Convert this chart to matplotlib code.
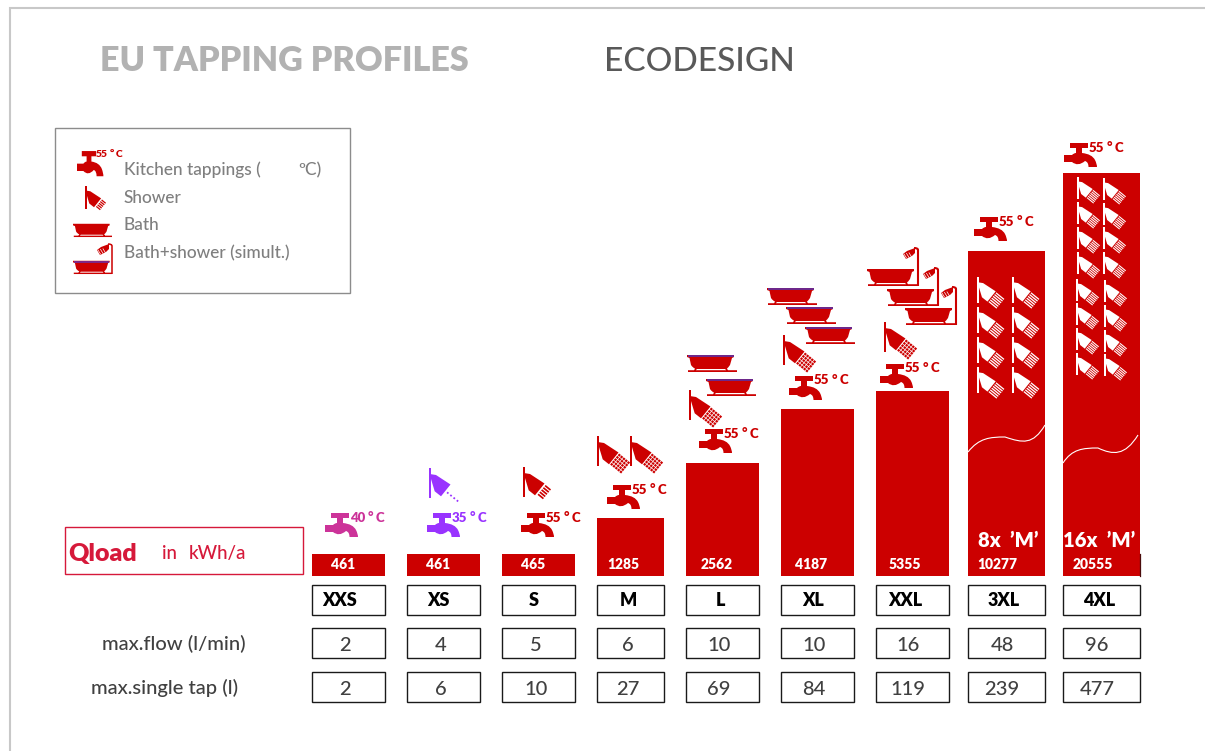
"""
EU tapping profiles (ecodesign) overview
"""
import numpy as np
import matplotlib
matplotlib.use("Agg")
import matplotlib.pyplot as plt
from matplotlib.patches import PathPatch, Rectangle
from matplotlib.path import Path
from matplotlib.transforms import Affine2D

plt.rcParams["font.family"] = ["Lato", "DejaVu Sans"]

# data
profiles = ["XXS", "XS", "S", "M", "L", "XL", "XXL", "3XL", "4XL"]
qload = [461, 461, 465, 1285, 2562, 4187, 5355, 10277, 20555]
max_flow = [2, 4, 5, 6, 10, 10, 16, 48, 96]
max_single_tap = [2, 6, 10, 27, 69, 84, 119, 239, 477]
bar_heights = [22, 22, 22, 58, 113, 167, 185, 325, 403]
tap_temps = [40, 35, 55, 55, 55, 55, 55, 55, 55]

# layout, in pixels of the 1205x751 picture
BAR_LEFT = [312, 407, 502, 597, 686, 781, 876, 968, 1063]
BAR_WIDTH = [73, 73, 73, 67, 73, 73, 73, 77, 77]
BASE = 576
NAME_X = [340, 438, 534, 628, 720, 813, 905, 1004, 1099]
FLOW_X = [345, 441, 536, 628, 719, 814, 908, 1002, 1097]
QLOAD_X = [343, 438, 533, 623, 717, 811, 905, 997, 1093]
TAP_POS = [(325, 512), (427, 512), (521, 512), (607, 484), (699, 428),
           (789, 375), (880, 363), (974, 216), (1064, 142)]

RED = "#cc0000"
MAGENTA = "#cc3399"
PURPLE = "#9933ff"
CRIMSON = "#d6193a"
TAP_COLORS = [MAGENTA, PURPLE] + [RED] * 7
M, L, Q, C = Path.MOVETO, Path.LINETO, Path.CURVE3, Path.CLOSEPOLY

TAP_PATH = Path(
    [(6, 1), (24, 1), (24, 6), (18, 6), (18, 11), (28, 12), (31, 18), (33, 22), (33, 25),
     (24.5, 25), (24.5, 20), (21, 19), (14, 25), (8, 20), (0, 20), (0, 13), (8, 13),
     (10, 11), (12, 11), (12, 6), (6, 6), (6, 1)],
    [M, L, L, L, L, Q, Q, Q, Q, L, Q, Q, Q, Q, L, L, L, Q, Q, L, L, C])

# tub with feet, then the floor line
BATH_PATH = Path(
    [(0, 1), (47, 1), (47, 3), (45, 4), (43, 11), (41, 14), (40, 14.5), (41, 16.5), (39.5, 16.5),
     (38, 15), (10, 15), (8.5, 16.5), (7, 16.5), (8, 14.5), (6, 14), (4, 11), (2.5, 4), (0, 3), (0, 1),
     (1, 16.2), (50, 16.2), (50, 18), (1, 18), (1, 16.2)],
    [M, L, L, L, L, Q, Q, L, L, L, L, L, L, L, Q, Q, L, L, C, M, L, L, L, C])

HEAD_PATH = Path(
    [(0.7, 6), (7, 7), (21.5, 16.5), (12, 28.3), (5.7, 23.3), (1.7, 10), (0.7, 6)],
    [M, L, L, L, L, L, C])

fig = plt.figure(figsize=(12.05, 7.51), dpi=100)
ax = fig.add_axes([0, 0, 1, 1])
ax.set_xlim(0, 1205)
ax.set_ylim(751, 0)
ax.axis("off")


def add_path(path, x, y, color, sx=1.0, sy=None, zorder=3):
    sy = sx if sy is None else sy
    trans = Affine2D().scale(sx, sy).translate(x, y) + ax.transData
    ax.add_patch(PathPatch(path, facecolor=color, edgecolor="none", lw=0,
                           transform=trans, zorder=zorder))


def draw_tap(x, y, temp, color, sx=1.0, sy=1.0, size=9.5, label_dx=25, label_dy=9.5):
    add_path(TAP_PATH, x, y, color, sx, sy)
    ax.text(x + label_dx, y + label_dy, f"{temp}", color=color, fontsize=size,
            fontweight="heavy", va="baseline", zorder=4)
    ax.text(x + label_dx + 1.85 * size, y + label_dy - 0.5, "°", color=color, fontsize=size,
            fontweight="heavy", va="baseline", zorder=4)
    ax.text(x + label_dx + 2.65 * size, y + label_dy, "C", color=color, fontsize=size,
            fontweight="heavy", va="baseline", zorder=4)


def draw_shower(x, y, color=RED, style="dense", scale=1.0):
    add_path(HEAD_PATH, x, y, color, scale)
    ax.add_patch(Rectangle((x, y), 1.5, 30 * scale, facecolor=color, lw=0, zorder=3))
    u = np.array([-0.63, 0.77])
    v = np.array([0.77, 0.63])
    start = np.array([21.5, 17.0])
    if style == "dense":
        spots = [(a * 3.0, b * 3.0 + 0.8, 2.3, 2.3) for a in range(5) for b in range(5)]
    elif style == "sparse":
        spots = [(7, 2 + b * 4.2, 1.8, 1.8) for b in range(4)]
    elif style == "white":
        spots = [(a * 2.6, 1.0, 1.5, 12) for a in range(6)]
    else:
        spots = [(a * 2.8, 1.5, 1.7, 7) for a in range(5)]
    for a, b, w, h in spots:
        corner = start + a * u + b * v
        quad = [corner, corner + w * u, corner + w * u + h * v, corner + h * v, corner]
        quad = np.array(quad) * scale + (x, y)
        ax.add_patch(plt.Polygon(quad, facecolor=color, lw=0, zorder=3))


def draw_bath(x, y, scale=1.0, rim=None):
    add_path(BATH_PATH, x, y, RED, scale)
    if rim:
        ax.plot([x + 0.5, x + 0.5 + 46 * scale], [y + 1.6, y + 1.6], color=rim, lw=1.2,
                solid_capstyle="butt", zorder=4)


def draw_pipe(x, top, bottom, lw=1.5):
    pipe = Path([(x, bottom), (x, top + 2), (x, top), (x - 4, top)], [M, L, Q, Q])
    ax.add_patch(PathPatch(pipe, facecolor="none", edgecolor=RED, lw=lw, zorder=3))
    head = Path([(-3, 0), (-11, 3), (-15, 6), (-12, 11), (-6, 8), (-3, 5), (-3, 0)],
                [M, L, L, L, L, L, C])
    add_path(head, x, top, RED)
    for i in range(3):
        ax.plot([x - 14 + 2.5 * i, x - 11.5 + 2.5 * i], [top + 6 - 0.6 * i, top + 10 - 0.6 * i],
                color="white", lw=0.5, zorder=4)


def box(x, y, w, h, edge="#1a1a1a", lw=1.0):
    ax.add_patch(Rectangle((x, y), w, h, facecolor="white", edgecolor=edge, lw=lw, zorder=2))


# outer frame
ax.plot([1205, 9.5, 9.5], [8, 8, 751], color="#c8c8c8", lw=1.5, solid_joinstyle="miter")

# title
ax.text(100, 71, "EU TAPPING PROFILES", color="#b2b2b2", fontsize=24.6,
        fontweight="heavy", va="baseline")
ax.text(604, 71, "ECODESIGN", color="#595959", fontsize=24, fontweight="medium", va="baseline")

# legend
box(55, 128, 295, 165, edge="#8c8c8c", lw=1.0)
draw_tap(77, 150, 55, RED, 0.8, 1.05, size=7.5, label_dx=19, label_dy=7)
draw_shower(85, 186, style="stripe", scale=0.75)
draw_bath(73, 223, scale=0.78)
draw_bath(73, 260, scale=0.78, rim="#7030a0")
draw_pipe(112, 244, 274, lw=1.1)
legend_labels = ["Kitchen tappings (", "Shower", "Bath", "Bath+shower (simult.)"]
for label, y in zip(legend_labels, [175, 203, 230, 258]):
    ax.text(123.5, y, label, color="#7f7f7f", fontsize=12.4, fontweight="medium", va="baseline")
ax.text(298, 175, "ºC)", color="#7f7f7f", fontsize=12.5, fontweight="medium", va="baseline")

# qload label
box(65, 526.5, 238, 47, edge=CRIMSON, lw=1.0)
ax.text(68.5, 561, "Qload", color=CRIMSON, fontsize=18, fontweight="heavy", va="baseline")
ax.text(162, 559, "in", color=CRIMSON, fontsize=13.5, fontweight="medium", va="baseline")
ax.text(189, 559, "kWh/a", color=CRIMSON, fontsize=13.5, fontweight="medium", va="baseline")

# bars
ax.bar(BAR_LEFT, [-h for h in bar_heights], width=BAR_WIDTH, bottom=BASE, align="edge",
       color=RED, linewidth=0, zorder=2)
ax.plot([1139.5, 1139.5], [554, 576], color="#4a0c0c", lw=0.9, zorder=3)

for i, name in enumerate(profiles):
    ax.text(QLOAD_X[i], 569, f"{qload[i]}", color="white", fontsize=10, fontweight="heavy",
            ha="center", va="baseline", zorder=5)
    draw_tap(*TAP_POS[i], tap_temps[i], TAP_COLORS[i])
    box(BAR_LEFT[i], 585, BAR_WIDTH[i], 30)
    box(BAR_LEFT[i], 628, BAR_WIDTH[i], 30)
    box(BAR_LEFT[i], 672, BAR_WIDTH[i], 30)
    ax.text(NAME_X[i], 606, name, color="black", fontsize=13, fontweight="heavy",
            ha="center", va="baseline", zorder=5)
    ax.text(FLOW_X[i], 651, f"{max_flow[i]}", color="#404040", fontsize=14.5,
            fontweight="medium", ha="center", va="baseline", zorder=5)
    ax.text(FLOW_X[i], 695, f"{max_single_tap[i]}", color="#404040", fontsize=14.5,
            fontweight="medium", ha="center", va="baseline", zorder=5)

ax.text(174, 650, "max.flow (l/min)", color="#404040", fontsize=14.5, fontweight="medium",
        ha="center", va="baseline")
ax.text(165, 694, "max.single tap (l)", color="#404040", fontsize=14.5, fontweight="medium",
        ha="center", va="baseline")

# showers above the bars
draw_shower(429, 468, color=PURPLE, style="sparse")
draw_shower(523, 467, style="stripe")
for x, y in [(597, 436), (630, 436), (689, 390), (783, 335), (884, 322)]:
    draw_shower(x, y)

# baths
for x, y in [(687, 354), (706, 378), (767, 287), (786, 306), (805, 326)]:
    draw_bath(x, y, rim="#5b2fa6")
for x, y in [(867, 268), (887, 288), (905, 307)]:
    draw_bath(x, y)
    draw_pipe(x + 51, y - 20, y + 18)

# white showers inside the two big bars
for x in [977, 1012]:
    for y in [277, 307, 337, 367]:
        draw_shower(x, y, color="white", style="white", scale=0.87)
for x, y in [(1077, 177), (1077, 202), (1077, 227), (1077, 252), (1076, 279), (1076, 303),
             (1076, 328), (1076, 353), (1103, 178), (1103, 203), (1103, 227), (1103, 252),
             (1104, 280), (1104, 305), (1104, 330), (1104, 354)]:
    draw_shower(x, y, color="white", style="white", scale=0.73)

# storage wave lines
for pts in [[(968, 452), (979, 438), (990, 437), (1005, 437), (1023, 443), (1033, 445), (1045, 425)],
            [(1063, 463), (1072, 449), (1083, 448), (1098, 448), (1113, 455), (1125, 456), (1138, 435)]]:
    wave = Path(pts, [M] + [Path.CURVE4] * 6)
    ax.add_patch(PathPatch(wave, facecolor="none", edgecolor="white", lw=0.8, zorder=4))

ax.text(978, 547, "8x  ’M’", color="white", fontsize=14.5, fontweight="heavy", va="baseline", zorder=5)
ax.text(1063, 547, "16x  ’M’", color="white", fontsize=14.5, fontweight="heavy", va="baseline", zorder=5)

fig.savefig("out.png", dpi=100, facecolor="white")
